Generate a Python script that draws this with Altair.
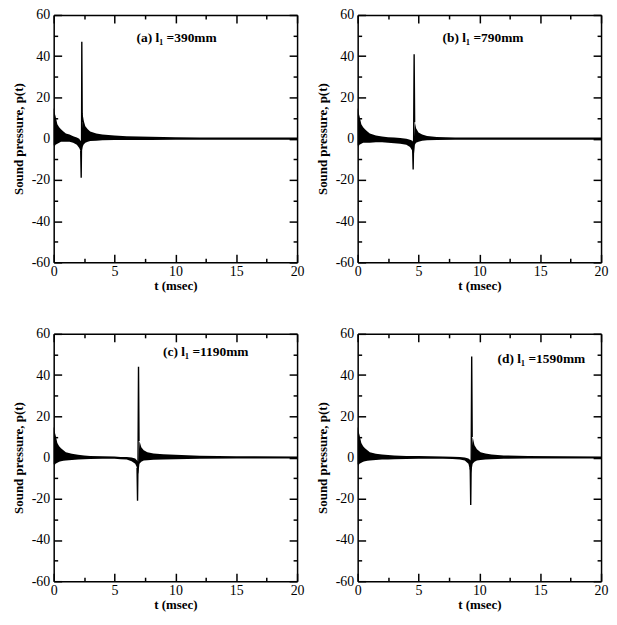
import altair as alt
import pandas as pd

# ---------------- data ----------------
# envelope of the dense oscillation (upper / lower), per panel
T_A  = [0, 0.05, 0.15, 0.3, 0.45, 0.6, 0.8, 1.0, 1.3, 1.6, 1.9, 2.1, 2.2, 2.28, 2.38, 2.45, 2.6, 2.8, 3.0, 3.5, 4.0, 5.0, 6.0, 8.0, 10, 12, 15, 20]
UP_A = [15, 13, 11, 7, 5.5, 4.5, 3.5, 2.5, 2.0, 1.2, 0.5, 0, -1, -1, 12, 9, 6, 4.5, 3.5, 2.5, 2.0, 1.5, 1.2, 0.9, 0.7, 0.6, 0.5, 0.5]
LO_A = [-3, -4, -3, -2.5, -2, -1.5, -1.5, -1.5, -1.5, -2, -3, -4.5, -6, -7, -4, -3, -2, -1.5, -1.2, -1, -0.8, -0.7, -0.6, -0.6, -0.5, -0.5, -0.5, -0.5]
SPK_T_A = [2.22, 2.26, 2.29, 2.31, 2.34, 2.38]
SPK_P_A = [-6, -19, 0, 47, 12, 8]

T_B  = [0, 0.05, 0.15, 0.3, 0.45, 0.6, 0.8, 1.0, 1.5, 2.0, 2.5, 3.0, 3.5, 4.0, 4.3, 4.5, 4.6, 4.7, 4.8, 5.0, 5.3, 5.7, 6.5, 8, 10, 13, 16, 20]
UP_B = [15, 13, 11, 7, 5.5, 4.5, 3.5, 2.5, 1.5, 1.0, 0.7, 0.5, 0.3, 0, -0.5, -1, -2, 8, 5, 3, 2, 1.3, 0.8, 0.6, 0.5, 0.5, 0.5, 0.5]
LO_B = [-3, -4, -3, -2.5, -2, -2, -2, -2, -1.8, -1.8, -2, -2.2, -2.5, -3, -4, -6, -9, -3, -2, -1.5, -1, -0.8, -0.6, -0.5, -0.5, -0.5, -0.5, -0.5]
SPK_T_B = [4.52, 4.56, 4.60, 4.64, 4.68]
SPK_P_B = [-5, -15, 0, 41, 8]

T_C  = [0, 0.05, 0.15, 0.3, 0.45, 0.6, 0.8, 1.0, 1.5, 2.0, 2.5, 3, 4, 5, 5.5, 6, 6.4, 6.7, 6.85, 6.95, 7.05, 7.2, 7.4, 7.7, 8.2, 9, 10, 12, 15, 20]
UP_C = [15, 13, 11, 7, 5.5, 4.5, 3.5, 2.5, 1.8, 1.3, 1, 0.8, 0.6, 0.5, 0.3, 0.2, 0, -0.5, -1.5, -2, 8, 5, 3.5, 2.5, 2, 1.6, 1.3, 0.9, 0.6, 0.5]
LO_C = [-3, -4, -3, -2.5, -2, -1.8, -1.6, -1.5, -1.2, -1, -0.8, -0.7, -0.6, -0.6, -0.8, -1, -1.8, -3, -5, -8, -3, -2, -1.5, -1.3, -1.1, -1, -0.8, -0.6, -0.5, -0.5]
SPK_T_C = [6.85, 6.89, 6.93, 6.97, 7.01]
SPK_P_C = [-5, -21, 0, 44, 8]

T_D  = [0, 0.05, 0.15, 0.3, 0.45, 0.6, 0.8, 1.0, 1.5, 2.0, 2.5, 3, 4, 5, 6, 7, 7.8, 8.4, 8.8, 9.1, 9.3, 9.45, 9.6, 9.8, 10.1, 10.5, 11, 12, 14, 20]
UP_D = [15, 13, 11, 7, 5.5, 4.5, 3.5, 2.5, 1.8, 1.5, 1.2, 1, 0.8, 0.7, 0.6, 0.5, 0.4, 0.2, 0, -0.5, -1.5, 10, 6, 4, 2.5, 2, 1.5, 1, 0.7, 0.5]
LO_D = [-3, -4, -3, -2.5, -2, -1.8, -1.6, -1.5, -1.2, -1, -0.9, -0.8, -0.7, -0.6, -0.6, -0.6, -0.7, -1, -1.5, -3, -8, -3, -2, -1.5, -1.2, -1, -0.8, -0.6, -0.5, -0.5]
SPK_T_D = [9.25, 9.29, 9.33, 9.37, 9.41]
SPK_P_D = [-5, -23, 0, 49, 10]

LABELS = ["(a) l\u2081 =390mm", "(b) l\u2081 =790mm", "(c) l\u2081 =1190mm", "(d) l\u2081 =1590mm"]
LABEL_T = [10.1, 10.3, 12.5, 15.1]
LABEL_P = [49, 49, 51, 48]

X_TICKS = [0, 2.5, 5, 7.5, 10, 12.5, 15, 17.5, 20]
Y_TICKS = [-60, -50, -40, -30, -20, -10, 0, 10, 20, 30, 40, 50, 60]

# ---------------- chart ----------------
FONT = "Liberation Serif"
W, H = 245, 249

XS = alt.Scale(domain=[0, 20], nice=False, zero=False)
YS = alt.Scale(domain=[-60, 60], nice=False, zero=False)


def tick_size(step):
    return {"condition": {"test": f"datum.value % {step} === 0", "value": -8}, "value": -4}


common = dict(grid=False, domainColor="black", domainWidth=1.5, tickColor="black",
              tickWidth=1.5, labelFont=FONT, labelFontSize=14, labelColor="black",
              titleFont=FONT, titleFontSize=13, titleFontWeight="bold", titleColor="black",
              labelFlush=False)

ax_bottom = alt.Axis(orient="bottom", values=X_TICKS, tickSize=tick_size(5),
                     labelExpr="datum.value % 5 === 0 ? '' + datum.value : ''",
                     labelPadding=10, title="t (msec)", titlePadding=1, **common)
ax_left = alt.Axis(orient="left", values=Y_TICKS, tickSize=tick_size(20),
                   labelExpr="datum.value % 20 === 0 ? '' + datum.value : ''",
                   labelPadding=12, title="Sound pressure, p(t)", titlePadding=6, **common)
ax_top = alt.Axis(orient="top", values=X_TICKS, tickSize=tick_size(5), labels=False,
                  title=None, **common)
ax_right = alt.Axis(orient="right", values=Y_TICKS, tickSize=tick_size(20), labels=False,
                    title=None, **common)


def panel(t, up, lo, st, sp, label, lt, lp):
    env = pd.DataFrame({"t": t, "upper": up, "lower": lo})
    spk = pd.DataFrame({"t": st, "p": sp})
    area = alt.Chart(env).mark_area(color="black", opacity=1).encode(
        x=alt.X("t:Q", scale=XS, axis=ax_bottom),
        y=alt.Y("upper:Q", scale=YS, axis=ax_left),
        y2="lower:Q",
    )
    line = alt.Chart(spk).mark_line(color="black", strokeWidth=1.4).encode(
        x=alt.X("t:Q", scale=XS, axis=ax_top),
        y=alt.Y("p:Q", scale=YS, axis=ax_right),
    )
    txt = alt.Chart(pd.DataFrame({"label": [label]})).mark_text(
        font=FONT, fontSize=13.5, fontWeight="bold", color="black",
        align="center", baseline="middle"
    ).encode(
        x=alt.XDatum(lt, type="quantitative", scale=XS, axis=None),
        y=alt.YDatum(lp, type="quantitative", scale=YS, axis=None),
        text="label:N",
    )
    return alt.layer(area, line, txt).properties(width=W, height=H)


pa = panel(T_A, UP_A, LO_A, SPK_T_A, SPK_P_A, LABELS[0], LABEL_T[0], LABEL_P[0])
pb = panel(T_B, UP_B, LO_B, SPK_T_B, SPK_P_B, LABELS[1], LABEL_T[1], LABEL_P[1])
pc = panel(T_C, UP_C, LO_C, SPK_T_C, SPK_P_C, LABELS[2], LABEL_T[2], LABEL_P[2])
pd_ = panel(T_D, UP_D, LO_D, SPK_T_D, SPK_P_D, LABELS[3], LABEL_T[3], LABEL_P[3])

chart = alt.vconcat(
    alt.hconcat(pa, pb, spacing=10),
    alt.hconcat(pc, pd_, spacing=10),
    spacing=33,
).properties(
    padding={"left": 3, "top": -3, "right": 0, "bottom": 0}
).configure_view(stroke=None).configure(background="white")

chart.save("out.html", embed_options={"renderer": "svg", "actions": False})
